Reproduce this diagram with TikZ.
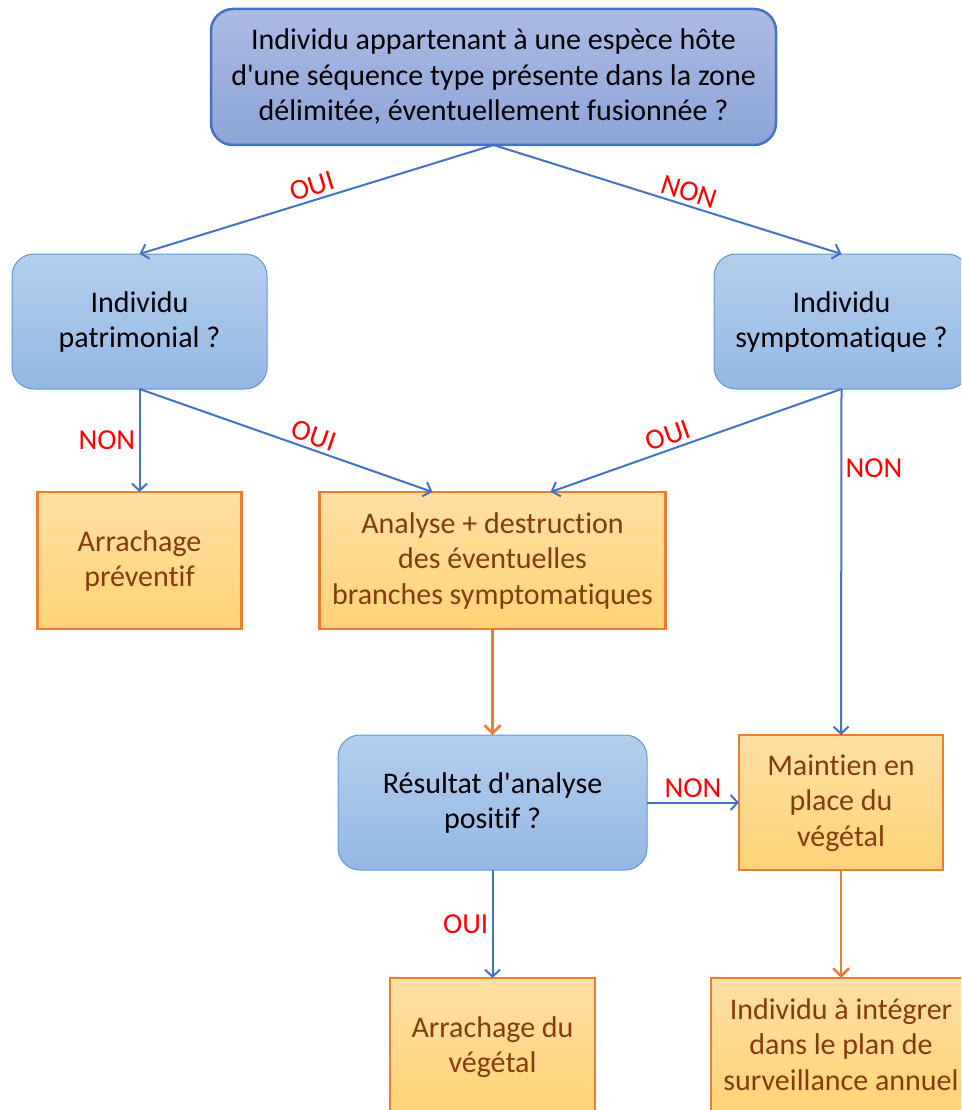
\documentclass[tikz,border=0pt]{standalone}
\usepackage{fontspec}
\setmainfont{Carlito}[Ligatures=NoCommon]
\usepackage{tikz}
\usetikzlibrary{arrows.meta, positioning}
\usepackage{xcolor}
\definecolor{lineBlue}{RGB}{68,114,196}
\definecolor{mainBlueTop}{RGB}{171,187,227}
\definecolor{mainBlueBot}{RGB}{140,164,216}
\definecolor{askBlueTop}{RGB}{180,206,236}
\definecolor{askBlueBot}{RGB}{148,184,228}
\definecolor{askBlueLine}{RGB}{91,155,213}
\definecolor{actOrangeTop}{RGB}{255,223,163}
\definecolor{actOrangeBot}{RGB}{255,211,118}
\definecolor{actOrangeLine}{RGB}{237,125,49}
\definecolor{actText}{RGB}{132,60,12}
\definecolor{answerRed}{RGB}{255,0,0}

\begin{document}
\begin{tikzpicture}[
    x=1pt, y=-1pt,
    txt/.style={align=center, outer sep=0pt, text depth=4pt, font=\fontsize{30}{35.5}\selectfont},
    mainq/.style={txt, rectangle, rounded corners=22pt, line width=2.5pt, draw=lineBlue,
        top color=mainBlueTop, bottom color=mainBlueBot, minimum width=565pt, minimum height=136pt},
    question/.style={txt, rectangle, rounded corners=22pt, line width=1pt, draw=askBlueLine,
        top color=askBlueTop, bottom color=askBlueBot, minimum height=135pt},
    action/.style={txt, rectangle, line width=2.5pt, draw=actOrangeLine, text=actText,
        top color=actOrangeTop, bottom color=actOrangeBot, minimum height=137pt},
    answer/.style={font=\fontsize{29}{32}\selectfont, text=answerRed},
    arrow/.style={-{Straight Barb[length=7pt, width=15pt]}, line width=2pt, draw=lineBlue},
    orarrow/.style={-{Straight Barb[length=8pt, width=16pt]}, line width=2.5pt, draw=actOrangeLine}
]
\path[use as bounding box, clip] (0,0) rectangle (961,1110);

% Questions
\node[mainq] (host) at (493.5,77) {Individu appartenant à une espèce hôte\\d\textquotesingle une séquence type présente dans la zone\\délimitée, éventuellement fusionnée ?};
\node[question, minimum width=255pt] (patri) at (139.5,321.5) {Individu\\patrimonial ?};
\node[question, minimum width=255pt, right=447pt of patri] (sympto) {Individu\\symptomatique ?};

% Actions
\node[action, minimum width=204pt, below=103pt of patri] (prevent) {Arrachage\\préventif};
\node[action, minimum width=346pt, right=78pt of prevent] (analysis) {Analyse + destruction\\des éventuelles\\branches symptomatiques};
\node[question, minimum width=309pt, below=106pt of analysis, minimum height=135pt] (result) {Résultat d\textquotesingle analyse\\positif ?};
\node[action, minimum width=204pt, minimum height=135pt, right=92pt of result] (keep) {Maintien en\\place du\\végétal};
\node[action, minimum width=205pt, below=108pt of result] (remove) {Arrachage du\\végétal};
\node[action, minimum width=260pt, below=108pt of keep] (survey) {Individu à intégrer\\dans le plan de\\surveillance annuel};

% Arrows
\draw[arrow] (host.south) -- node[answer, sloped, above, pos=0.5] {OUI} (patri.north);
\draw[arrow] (host.south) -- node[answer, sloped, above, pos=0.55] {NON} (sympto.north);
\draw[arrow] (patri.south) -- node[answer, left, pos=0.5] {NON} (prevent.north);
\draw[arrow] (patri.south) -- node[answer, sloped, above, pos=0.58] {OUI} ([xshift=-60pt]analysis.north);
\draw[arrow] (sympto.south) -- node[answer, sloped, above, pos=0.58] {OUI} ([xshift=58pt]analysis.north);
\draw[arrow] (sympto.south) -- node[answer, right, pos=0.23] {NON} (keep.north);
\draw[orarrow] (analysis.south) -- (result.north);
\draw[arrow] (result.east) -- node[answer, above] {NON} (keep.west);
\draw[arrow] (result.south) -- node[answer, left] {OUI} (remove.north);
\draw[orarrow] (keep.south) -- (survey.north);

\end{tikzpicture}
\end{document}
